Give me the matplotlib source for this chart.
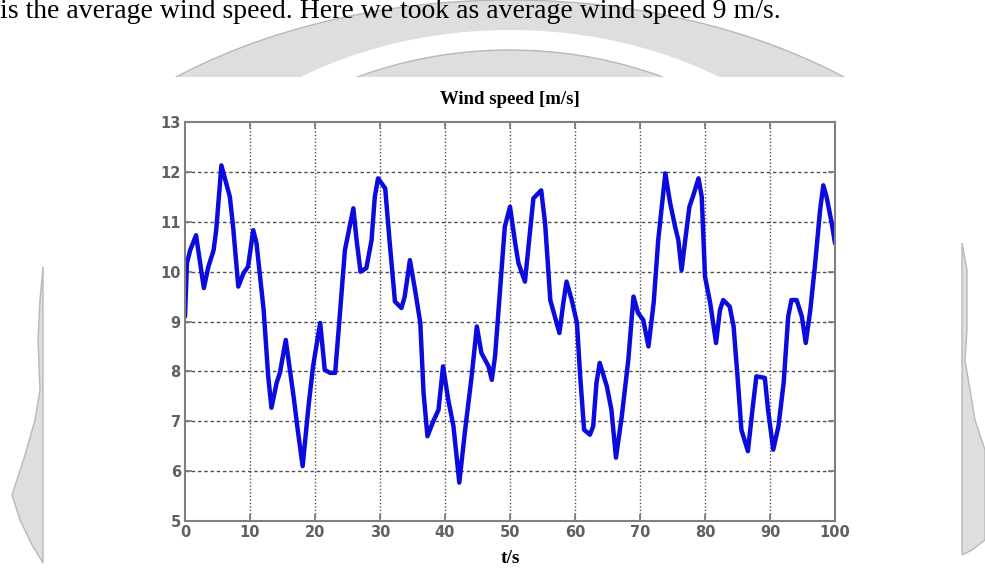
import matplotlib
matplotlib.use("Agg")
from matplotlib import pyplot as plt
from matplotlib.patches import Ellipse, Rectangle, Polygon
import numpy as np

# wind speed trace
t = [0.0, 0.3, 0.8, 1.7, 2.9, 3.6, 4.4, 4.8, 5.6, 6.9, 7.4, 8.2, 9.0, 9.7,
     10.5, 11.0, 12.1, 12.8, 13.3, 14.1, 14.6, 15.5, 16.7, 17.4, 18.1, 19.0,
     19.7, 20.8, 21.5, 22.3, 23.1, 23.8, 24.6, 25.9, 26.4, 27.0, 27.9, 28.7,
     29.2, 29.7, 30.8, 31.5, 32.3, 33.3, 33.8, 34.6, 35.4, 36.2, 36.7, 37.3,
     38.2, 39.0, 39.7, 40.5, 41.3, 42.2, 43.1, 44.1, 44.9, 45.6, 46.7, 47.2,
     47.7, 48.5, 49.2, 50.0, 50.8, 51.3, 52.3, 53.0, 53.6, 54.8, 55.4, 56.2,
     56.9, 57.6, 58.2, 58.7, 59.5, 60.3, 60.8, 61.4, 62.3, 62.8, 63.3, 63.8,
     64.9, 65.6, 66.3, 67.2, 68.2, 69.0, 69.7, 70.5, 71.3, 72.1, 72.8, 73.9,
     74.6, 75.4, 75.9, 76.4, 76.9, 77.6, 78.2, 79.0, 79.5, 80.0, 80.8, 81.7,
     82.3, 82.8, 83.8, 84.4, 85.0, 85.6, 86.6, 87.3, 87.9, 89.2, 89.7, 90.5,
     91.3, 92.1, 92.8, 93.3, 94.1, 94.9, 95.5, 96.2, 96.9, 97.7, 98.2, 98.7,
     99.5, 100.0]
wind = [9.1, 10.17, 10.43, 10.73, 9.67, 10.1, 10.43, 10.83, 12.13, 11.5, 10.9,
        9.7, 9.97, 10.1, 10.83, 10.57, 9.23, 7.9, 7.27, 7.77, 7.97, 8.63, 7.5,
        6.77, 6.1, 7.3, 8.1, 8.97, 8.03, 7.97, 7.97, 9.1, 10.43, 11.27, 10.63,
        10.0, 10.07, 10.63, 11.5, 11.87, 11.67, 10.57, 9.4, 9.27, 9.5, 10.23,
        9.63, 8.97, 7.57, 6.7, 7.0, 7.23, 8.1, 7.43, 6.9, 5.77, 6.83, 7.9, 8.9,
        8.37, 8.1, 7.83, 8.3, 9.7, 10.9, 11.3, 10.57, 10.17, 9.8, 10.7, 11.47,
        11.63, 10.97, 9.43, 9.1, 8.77, 9.37, 9.8, 9.43, 8.97, 7.9, 6.83, 6.73,
        6.9, 7.77, 8.17, 7.7, 7.23, 6.27, 7.1, 8.23, 9.5, 9.17, 9.03, 8.5,
        9.37, 10.63, 11.97, 11.4, 10.9, 10.63, 10.03, 10.57, 11.3, 11.53,
        11.87, 11.5, 9.9, 9.37, 8.57, 9.23, 9.43, 9.3, 8.9, 7.9, 6.83, 6.4,
        7.23, 7.9, 7.87, 7.23, 6.43, 6.9, 7.77, 9.1, 9.43, 9.43, 9.1, 8.57,
        9.23, 10.1, 11.23, 11.73, 11.5, 10.97, 10.57]

xticks = [0, 10, 20, 30, 40, 50, 60, 70, 80, 90, 100]
yticks = [5, 6, 7, 8, 9, 10, 11, 12, 13]

W, H = 985, 570
fig = plt.figure(figsize=(W / 100, H / 100), dpi=100)
fig.patch.set_facecolor("white")

# faint watermark behind the page (pixel coords, y from top)
def px(x, y):
    return (x / W, 1 - y / H)

wm_fill = "#dedede"
wm_edge = "#b8b8b8"
tr = fig.transFigure
shapes = [
    Ellipse(px(510, 330), 1040 / W, 660 / H, fc=wm_fill, ec=wm_edge, lw=1),
    Ellipse(px(510, 330), 780 / W, 600 / H, fc="white", ec="none"),
    Ellipse(px(510, 330), 712 / W, 560 / H, fc=wm_fill, ec=wm_edge, lw=1),
    Rectangle((0, 0), 1, 1 - 77 / H, fc="white", ec="none"),
    Polygon([px(43, 267), px(40, 300), px(38, 340), px(40, 390), px(35, 420),
             px(25, 455), px(12, 495), px(20, 520), px(32, 545), px(43, 563)],
            closed=True, fc=wm_fill, ec=wm_edge, lw=1),
    Polygon([px(962, 243), px(967, 270), px(967, 330), px(965, 360),
             px(975, 420), px(985, 450), px(985, 540), px(972, 550),
             px(962, 555)],
            closed=True, fc=wm_fill, ec=wm_edge, lw=1),
]
for i, s in enumerate(shapes):
    s.set_transform(tr)
    s.set_zorder(-10 + i)
    fig.patches.append(s)

fig.text(0.0, 1 - 18 / H, "is the average wind speed. Here we took as average wind speed 9 m/s.",
         family="Liberation Serif", fontsize=20, va="baseline", ha="left")

ax = fig.add_axes([185 / W, 1 - 521 / H, 650 / W, 399 / H])
ax.plot(t, wind, color="#0b0be0", lw=3.2, solid_joinstyle="round",
        solid_capstyle="round")
ax.set_xlim(0, 100)
ax.set_ylim(5, 13)
ax.set_xticks(xticks)
ax.set_yticks(yticks)

for y in yticks[1:-1]:
    ax.axhline(y, color="#505050", lw=1, ls=(0, (2.5, 2)), zorder=0)
for x in xticks[1:-1]:
    ax.axvline(x, color="#505050", lw=1, ls=(0, (1, 1.5)), zorder=0)

for sp in ax.spines.values():
    sp.set_color("#808080")
    sp.set_linewidth(1.5)
ax.tick_params(direction="in", length=5, width=1.2, color="#777777",
               top=True, right=True, labelsize=10.5, labelcolor="#606060", pad=3)
for lab in ax.get_xticklabels() + ax.get_yticklabels():
    lab.set_fontweight("bold")

ax.set_title("Wind speed [m/s]", family="Liberation Serif", fontweight="bold",
             fontsize=13.5, pad=13)
ax.set_xlabel("t/s", family="Liberation Serif", fontweight="bold", fontsize=14,
              labelpad=7)

fig.savefig("out.png", dpi=100)
